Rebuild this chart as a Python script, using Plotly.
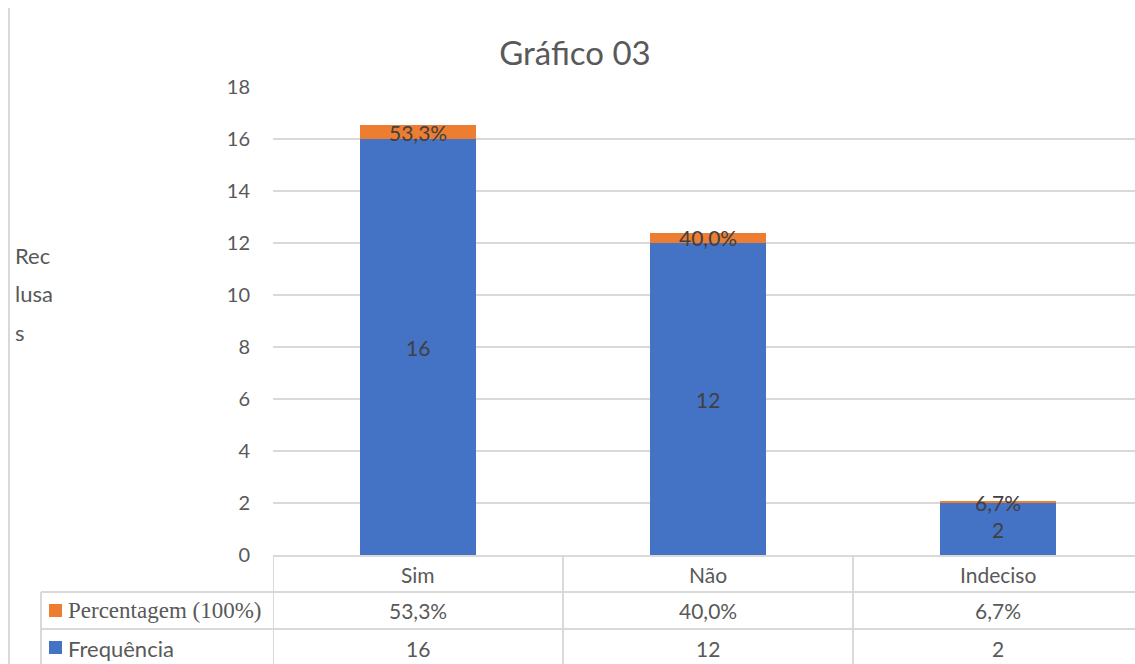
import plotly.graph_objects as go

categorias = ["Sim", "Não", "Indeciso"]
frequencia = [16, 12, 2]
percentagem = [0.533, 0.400, 0.067]
pct_rotulos = ["53,3%", "40,0%", "6,7%"]
y_ticks = [0, 2, 4, 6, 8, 10, 12, 14, 16, 18]

W, H = 1135, 664
AZUL = "#4472C4"
LARANJA = "#ED7D31"
CINZA = "#595959"
ESCURO = "#404040"
LINHA = "#D9D9D9"
FONTE = "Lato"


def py(pix):
    # pixel from top -> paper coordinate
    return 1 - pix / H


x_pos = list(range(len(categorias)))

fig = go.Figure()
fig.add_trace(go.Bar(x=x_pos, y=frequencia, name="Frequência",
                     marker=dict(color=AZUL, line=dict(width=0)), width=0.4))
fig.add_trace(go.Bar(x=x_pos, y=percentagem, name="Percentagem (100%)",
                     marker=dict(color=LARANJA, line=dict(width=0)), width=0.4))

# data labels
for i, cat in enumerate(categorias):
    fig.add_annotation(x=i, y=frequencia[i] / 2, xref="x", yref="y", text=str(frequencia[i]),
                       showarrow=False, yanchor="middle",
                       font=dict(size=21, color=ESCURO, family=FONTE))
    fig.add_annotation(x=i, y=frequencia[i] + percentagem[i] / 2, xref="x", yref="y",
                       text=pct_rotulos[i], showarrow=False, yanchor="middle",
                       font=dict(size=21, color=ESCURO, family=FONTE))

# data table below the chart
linhas_y = [574, 610, 648]
for i, cat in enumerate(categorias):
    linha = [cat, pct_rotulos[i], str(frequencia[i])]
    for txt, yy in zip(linha, linhas_y):
        fig.add_annotation(x=i, y=py(yy), xref="x", yref="paper", text=txt, showarrow=False,
                           xanchor="center", yanchor="middle",
                           font=dict(size=21, color=CINZA, family=FONTE))

# table legend keys
fig.add_shape(type="rect", xref="paper", yref="paper", x0=49 / W, x1=62 / W,
              y0=py(617), y1=py(604), fillcolor=LARANJA, line=dict(width=0))
fig.add_shape(type="rect", xref="paper", yref="paper", x0=49 / W, x1=62 / W,
              y0=py(654), y1=py(641), fillcolor=AZUL, line=dict(width=0))
fig.add_annotation(x=66 / W, y=py(610), xref="paper", yref="paper", xanchor="left",
                   yanchor="middle", text="Percentagem (100%)", showarrow=False,
                   font=dict(size=23, color=CINZA, family="Liberation Serif"))
fig.add_annotation(x=66 / W, y=py(648), xref="paper", yref="paper", xanchor="left",
                   yanchor="middle", text="Frequência", showarrow=False,
                   font=dict(size=22, color=CINZA, family=FONTE))

# table grid lines
fig.add_shape(type="line", xref="paper", yref="paper", x0=41 / W, x1=1, y0=py(592), y1=py(592),
              line=dict(color=LINHA, width=2))
fig.add_shape(type="line", xref="paper", yref="paper", x0=41 / W, x1=1, y0=py(629), y1=py(629),
              line=dict(color=LINHA, width=2))
fig.add_shape(type="line", xref="paper", yref="paper", x0=41 / W, x1=41 / W, y0=0, y1=py(592),
              line=dict(color=LINHA, width=2))
for xv in [-0.5, 0.5, 1.5]:
    fig.add_shape(type="line", xref="x", yref="paper", x0=xv, x1=xv, y0=0, y1=py(555),
                  line=dict(color=LINHA, width=2))

# outer left border
fig.add_shape(type="line", xref="paper", yref="paper", x0=9 / W, x1=9 / W, y0=0, y1=py(8),
              line=dict(color=LINHA, width=2))

# y axis title, wrapped like the original
for txt, yy in [("Rec", 255), ("lusa", 294), ("s", 332)]:
    fig.add_annotation(x=13 / W, y=py(yy), xref="paper", yref="paper", xanchor="left",
                       yanchor="middle", text=txt, showarrow=False,
                       font=dict(size=22, color=CINZA, family=FONTE))

fig.update_layout(
    width=W, height=H,
    barmode="stack",
    showlegend=False,
    separators=",.",
    paper_bgcolor="white",
    plot_bgcolor="white",
    margin=dict(l=0, r=0, t=0, b=0, autoexpand=False),
    font=dict(family=FONTE, color=CINZA, size=21),
    title=dict(text="Gráfico 03", x=575 / W, xanchor="center", y=py(53), yanchor="middle",
               font=dict(size=33, color=CINZA, family=FONTE)),
    xaxis=dict(domain=[273 / W, 1], range=[-0.5, -0.5 + (W - 273) / 290],
               showticklabels=False, showgrid=False, zeroline=False, automargin=False,
               showline=True, linecolor=LINHA, linewidth=2),
    yaxis=dict(domain=[py(555), py(87)], range=[0, 18], tickvals=y_ticks,
               showgrid=True, gridcolor=LINHA, gridwidth=1.5, zeroline=False,
               showline=False, ticks="", ticklabelstandoff=22, automargin=False,
               tickfont=dict(size=20, color=CINZA, family=FONTE)),
)

fig.write_html("out.html", config={"displayModeBar": False},
               post_script="document.body.style.margin='0px';")
